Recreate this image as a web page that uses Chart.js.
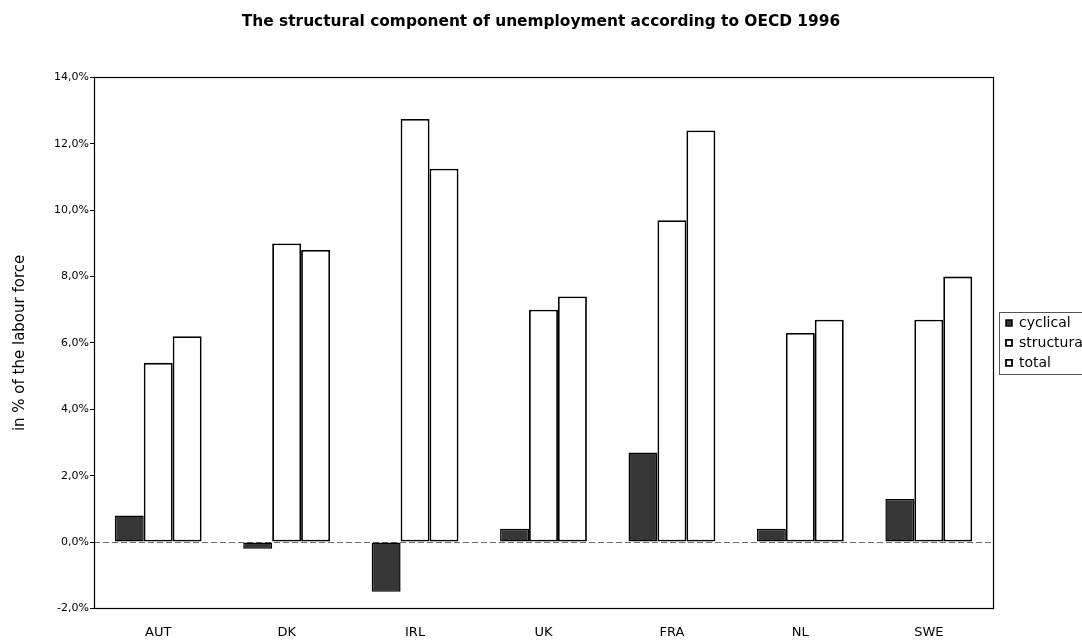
<!DOCTYPE html>
<html>
<head>
<meta charset="utf-8">
<script src="https://cdn.jsdelivr.net/npm/chart.js@4/dist/chart.umd.min.js"></script>
<style>
  html, body { margin: 0; padding: 0; background: #fff; overflow: hidden; }
  #wrap { width: 1082px; height: 641px; position: relative; }
</style>
</head>
<body>
<div id="wrap"><canvas id="c" width="1082" height="641"></canvas></div>
<script>
const titleText = 'The structural component of unemployment according to OECD 1996';
const yAxisTitle = 'in % of the labour force';
const categories = ['AUT', 'DK', 'IRL', 'UK', 'FRA', 'NL', 'SWE'];
const cyclical   = [0.8, -0.2, -1.5, 0.4, 2.7, 0.4, 1.3];
const structural = [5.4, 9.0, 12.75, 7.0, 9.7, 6.3, 6.7];
const total      = [6.2, 8.8, 11.25, 7.4, 12.4, 6.7, 8.0];
const seriesNames = ['cyclical', 'structural', 'total'];
const yMin = -2, yMax = 14, yStep = 2;

Chart.defaults.font.family = "'DejaVu Sans', 'Liberation Sans', sans-serif";
Chart.defaults.color = '#000';

const zeroLine = {
  id: 'zeroLine',
  beforeDatasetsDraw(chart) {
    const {ctx, chartArea: a, scales: {y}} = chart;
    const py = y.getPixelForValue(0);
    ctx.save();
    ctx.strokeStyle = '#6a6a6a';
    ctx.lineWidth = 1;
    ctx.setLineDash([6, 3]);
    ctx.beginPath();
    ctx.moveTo(a.left, py + 0.5);
    ctx.lineTo(a.right, py + 0.5);
    ctx.stroke();
    ctx.restore();
  }
};

const frame = {
  id: 'frame',
  afterDatasetsDraw(chart) {
    const {ctx, chartArea: a} = chart;
    ctx.save();
    ctx.strokeStyle = '#000';
    ctx.lineWidth = 1.2;
    ctx.strokeRect(Math.round(a.left) + 0.5, Math.round(a.top) + 0.5,
                   Math.round(a.right - a.left), Math.round(a.bottom - a.top));
    ctx.restore();
  },
  afterDraw(chart) {
    const lg = chart.legend;
    if (!lg || !lg.legendHitBoxes || !lg.legendHitBoxes.length) return;
    const hb = lg.legendHitBoxes;
    const first = hb[0], last = hb[hb.length - 1];
    const ctx = chart.ctx;
    ctx.save();
    ctx.strokeStyle = '#555';
    ctx.lineWidth = 1;
    const x0 = Math.round(first.left) - 6.5;
    const y0 = Math.round(first.top) - 3.5;
    const y1 = Math.round(last.top + last.height) + 4.5;
    ctx.strokeRect(x0, y0, chart.width + 10 - x0, y1 - y0);
    ctx.restore();
  }
};

new Chart(document.getElementById('c'), {
  type: 'bar',
  data: {
    labels: categories,
    datasets: [
      { label: seriesNames[0], data: cyclical,   backgroundColor: '#363636', borderColor: '#000', borderWidth: 1.5, borderSkipped: false },
      { label: seriesNames[1], data: structural, backgroundColor: '#ffffff', borderColor: '#000', borderWidth: 1.8, borderSkipped: false },
      { label: seriesNames[2], data: total,      backgroundColor: '#ffffff', borderColor: '#000', borderWidth: 1.8, borderSkipped: false }
    ]
  },
  options: {
    responsive: false,
    animation: false,
    devicePixelRatio: 1,
    layout: { padding: { left: 0, right: 0, top: 0, bottom: -15 } },
    datasets: { bar: { categoryPercentage: 0.676, barPercentage: 1.0 } },
    plugins: {
      title: {
        display: true,
        text: titleText,
        font: { size: 15.4, weight: 'bold' },
        color: '#000',
        padding: { top: 13, bottom: 46 }
      },
      legend: {
        display: true,
        position: 'right',
        align: 'center',
        fullSize: false,
        maxWidth: 82,
        labels: {
          boxWidth: 6,
          boxHeight: 6,
          padding: 6,
          font: { size: 14 },
          color: '#000'
        }
      },
      tooltip: { enabled: false }
    },
    scales: {
      x: {
        grid: { display: false, drawTicks: false },
        border: { display: true, color: '#000', width: 1 },
        ticks: { font: { size: 13 }, padding: 16, color: '#000' }
      },
      y: {
        min: yMin, max: yMax,
        afterFit(scale) { scale.width = 94; },
        grid: { display: true, drawOnChartArea: false, drawTicks: true, tickLength: 4, color: '#000' },
        border: { display: true, color: '#000', width: 1 },
        ticks: {
          stepSize: yStep,
          padding: 1,
          font: { size: 11 },
          color: '#000',
          callback: (v) => v.toFixed(1).replace('.', ',') + '%'
        },
        title: {
          display: true,
          text: yAxisTitle,
          font: { size: 15 },
          color: '#000',
          padding: { top: 11, bottom: 0 }
        }
      },
      gap: {
        position: 'right',
        display: true,
        afterFit(scale) { scale.width = 7; },
        grid: { display: false, drawTicks: false },
        border: { display: false },
        ticks: { display: false }
      }
    }
  },
  plugins: [zeroLine, frame]
});
</script>
</body>
</html>
